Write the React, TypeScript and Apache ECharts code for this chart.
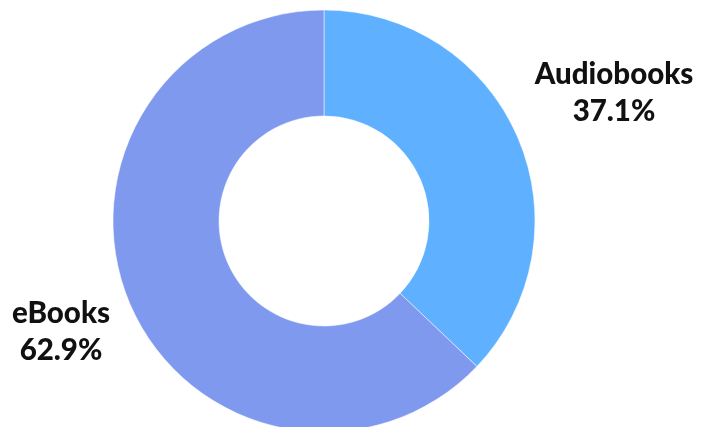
import React, { useEffect, useRef } from "react";
import * as echarts from "echarts";

const categories = ["Audiobooks", "eBooks"];
const shares = [37.1, 62.9];
const colors = ["#5FB1FF", "#7F99EF"];

export default function App() {
  const ref = useRef<HTMLDivElement>(null);
  useEffect(() => {
    if (!ref.current) return;
    const chart = echarts.init(ref.current, undefined, { renderer: "svg" });
    chart.setOption({
      animation: false,
      series: [
        {
          type: "pie",
          center: [324, 221],
          radius: [105, 211],
          startAngle: 90,
          clockwise: true,
          itemStyle: { borderColor: "#ffffff", borderWidth: 0.5 },
          label: {
            show: true,
            position: "outside",
            formatter: (p: any) => `${p.name}\n${p.value.toFixed(1)}%`,
            fontFamily: "Lato",
            fontWeight: 900,
            fontSize: 29.5,
            lineHeight: 37,
            color: "#111111",
            align: "center",
            overflow: "none",
            width: 200,
          },
          labelLine: { show: false },
          labelLayout: (p: any) =>
            p.dataIndex === 0
              ? { x: 614, y: 91, align: "center", verticalAlign: "middle", width: 200 }
              : { x: 61, y: 330, align: "center", verticalAlign: "middle", width: 200 },
          data: categories.map((c, i) => ({
            name: c,
            value: shares[i],
            itemStyle: { color: colors[i] },
          })),
        },
      ],
    });
    return () => chart.dispose();
  }, []);
  return (
    <div
      ref={ref}
      style={{ position: "fixed", left: 0, top: 0, width: 709, height: 427 }}
    />
  );
}
